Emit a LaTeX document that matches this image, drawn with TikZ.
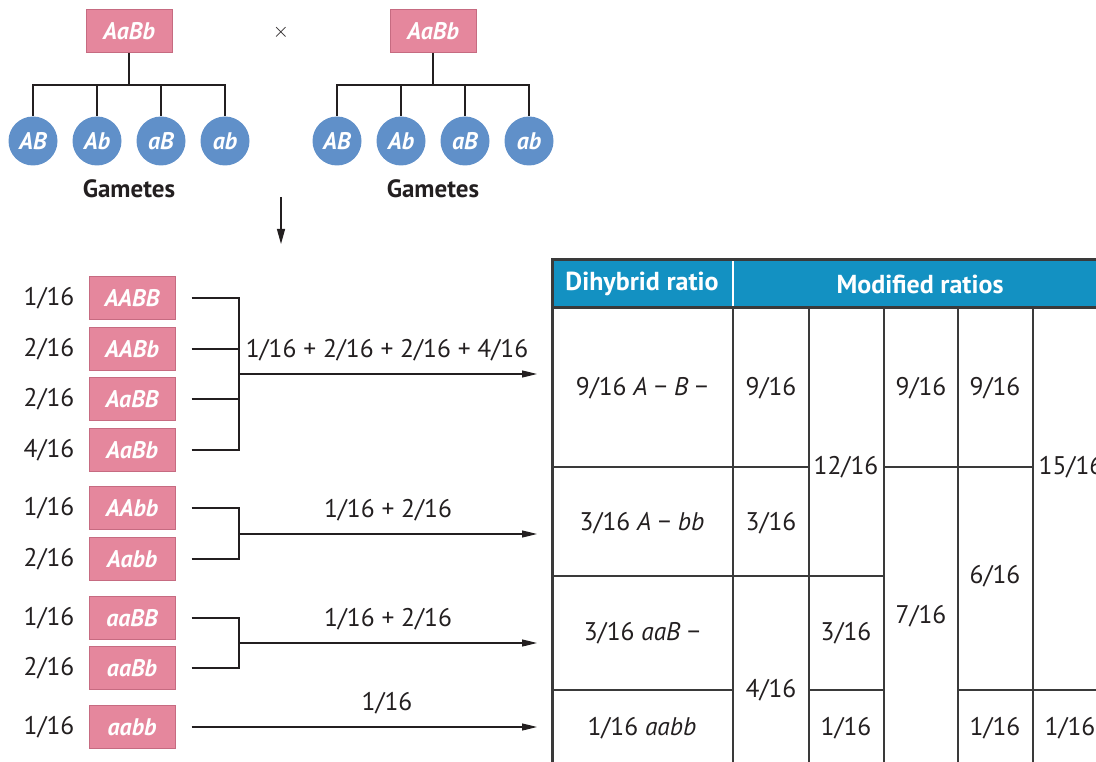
\documentclass[tikz,border=0pt]{standalone}
\usepackage{fontspec}
\setmainfont{PT Sans}
\usetikzlibrary{arrows.meta, positioning, calc}
\definecolor{cpink}{HTML}{E5879D}
\definecolor{cpinkline}{HTML}{C66B81}
\definecolor{cblue}{HTML}{6090C9}
\definecolor{chead}{HTML}{1391C2}
\definecolor{cink}{HTML}{231F20}
\definecolor{cgrid}{HTML}{3A3A3A}
\tikzset{
  every picture/.style={line width=1.2pt, color=cink},
  geno/.style={draw=cpinkline, fill=cpink, line width=1pt, minimum width=86pt, minimum height=43pt, inner sep=0pt, text=white, font=\fontsize{24}{28}\selectfont\bfseries\itshape},
  gamete/.style={circle, fill=cblue, minimum size=49pt, inner sep=0pt, text=white, font=\fontsize{24}{28}\selectfont\bfseries\itshape},
  frac/.style={font=\fontsize{25.5}{30}\selectfont, inner sep=0pt},
  gamlabel/.style={font=\fontsize{25}{30}\selectfont\bfseries, inner sep=0pt},
  head/.style={font=\fontsize{26}{30}\selectfont\bfseries, text=white, inner sep=0pt},
  link/.style={draw=cink, line width=1.2pt},
  arrow/.style={-{Triangle[length=15pt, width=7pt]}, draw=cink, line width=1.2pt},
  colline/.style={draw=cgrid, line width=2.4pt},
  rowline/.style={draw=cgrid, line width=1.3pt},
}

\begin{document}
\begin{tikzpicture}[x=1pt, y=-1pt]
  \clip (0,0) rectangle (1096,762);
  % parents and gametes
  \node[geno] (pl) at (129,31) {AaBb};
  \node[geno] (pr) at (433,31) {AaBb};
  \node[font=\fontsize{22}{26}\selectfont, inner sep=0pt] (cross) at (281,32) {$\times$};
  \coordinate (lbar) at (129,85);
  \coordinate (rbar) at (433,85);
  \node[gamete] (la) at (33,141) {AB};
  \node[gamete] (lb) at (97,141) {Ab};
  \node[gamete] (lc) at (161,141) {aB};
  \node[gamete] (ld) at (225,141) {ab};
  \node[gamete] (ra) at (337,141) {AB};
  \node[gamete] (rb) at (401,141) {Ab};
  \node[gamete] (rc) at (465,141) {aB};
  \node[gamete] (rd) at (529,141) {ab};
  \node[gamlabel] (lgam) at (129,189) {Gametes};
  \node[gamlabel] (rgam) at (433,189) {Gametes};
  \draw[link] (pl) -- (lbar);
  \draw[link] (lbar) -| (la);
  \draw[link] (lbar) -| (lb);
  \draw[link] (lbar) -| (lc);
  \draw[link] (lbar) -| (ld);
  \draw[link] (pr) -- (rbar);
  \draw[link] (rbar) -| (ra);
  \draw[link] (rbar) -| (rb);
  \draw[link] (rbar) -| (rc);
  \draw[link] (rbar) -| (rd);
  \coordinate (dtop) at (281,197);
  \coordinate (dbot) at (281,244);
  \draw[-{Triangle[length=15pt, width=8pt]}, line width=1.2pt] (dtop) -- (dbot);

  % F2 genotypes
  \node[geno] (g1) at (132,298) {AABB};
  \node[geno] (g2) at (132,349) {AABb};
  \node[geno] (g3) at (132,399) {AaBB};
  \node[geno] (g4) at (132,450) {AaBb};
  \node[geno] (g5) at (132,508) {AAbb};
  \node[geno] (g6) at (132,559) {Aabb};
  \node[geno] (g7) at (132,618) {aaBB};
  \node[geno] (g8) at (132,668) {aaBb};
  \node[geno] (g9) at (132,727) {aabb};
  \node[frac] (f1) at (49,298) {1/16};
  \node[frac] (f2) at (49,349) {2/16};
  \node[frac] (f3) at (49,399) {2/16};
  \node[frac] (f4) at (49,450) {4/16};
  \node[frac] (f5) at (49,508) {1/16};
  \node[frac] (f6) at (49,559) {2/16};
  \node[frac] (f7) at (49,618) {1/16};
  \node[frac] (f8) at (49,668) {2/16};
  \node[frac] (f9) at (49,727) {1/16};

  \coordinate (j1) at (239,374);
  \coordinate (j2) at (239,534);
  \coordinate (j3) at (239,643);
  \coordinate (e1) at (537,374);
  \coordinate (e2) at (537,534);
  \coordinate (e3) at (537,643);
  \coordinate (e4) at (537,727);
  \draw[link, shorten <=16pt] (g1.east) -| (j1);
  \draw[link, shorten <=16pt] (g2.east) -| (j1);
  \draw[link, shorten <=16pt] (g3.east) -| (j1);
  \draw[link, shorten <=16pt] (g4.east) -| (j1);
  \draw[link, shorten <=16pt] (g5.east) -| (j2);
  \draw[link, shorten <=16pt] (g6.east) -| (j2);
  \draw[link, shorten <=16pt] (g7.east) -| (j3);
  \draw[link, shorten <=16pt] (g8.east) -| (j3);
  \draw[arrow] (j1) -- (e1);
  \draw[arrow] (j2) -- (e2);
  \draw[arrow] (j3) -- (e3);
  \draw[arrow, shorten <=16pt] (g9.east) -- (e4);
  \node[frac] (s1) at (387,350) {1/16 + 2/16 + 2/16 + 4/16};
  \node[frac] (s2) at (388,510) {1/16 + 2/16};
  \node[frac] (s3) at (388,619) {1/16 + 2/16};
  \node[frac] (s4) at (387,703) {1/16};

  % ratio table
  \fill[chead] (552,260) rectangle (1110,308);
  \draw[white, line width=2pt] (733,260) -- (733,308);
  \draw[colline, line width=3pt] (552,260) -- (1110,260);
  \draw[colline, line width=3pt] (552,308) -- (1110,308);
  \draw[colline, line width=3pt] (552,258.5) -- (552,770);
  \draw[colline] (733,308) -- (733,770);
  \draw[colline] (809,308) -- (809,770);
  \draw[colline] (884,308) -- (884,770);
  \draw[colline] (958,308) -- (958,770);
  \draw[colline] (1033,308) -- (1033,770);
  \draw[rowline] (552,467) -- (809,467);
  \draw[rowline] (884,467) -- (1033,467);
  \draw[rowline] (552,576) -- (884,576);
  \draw[rowline] (552,690) -- (733,690);
  \draw[rowline] (809,690) -- (884,690);
  \draw[rowline] (958,690) -- (1110,690);
  \node[head] (hd) at (642,284) {Dihybrid ratio};
  \node[head] (hm) at (920,284) {Modified ratios};
  \node[frac] (d1) at (642,388) {9/16 \textit{A} − \textit{B} −};
  \node[frac] (d2) at (642,523) {3/16 \textit{A} − \textit{bb}};
  \node[frac] (d3) at (642,633) {3/16 \textit{aaB} −};
  \node[frac] (d4) at (642,728) {1/16 \textit{aabb}};
  \node[frac] (m1a) at (771,388) {9/16};
  \node[frac] (m1b) at (771,523) {3/16};
  \node[frac] (m1c) at (771,690) {4/16};
  \node[frac] (m2a) at (846,467) {12/16};
  \node[frac] (m2b) at (846,633) {3/16};
  \node[frac] (m2c) at (846,728) {1/16};
  \node[frac] (m3a) at (921,388) {9/16};
  \node[frac] (m3b) at (921,616) {7/16};
  \node[frac] (m4a) at (995,388) {9/16};
  \node[frac] (m4b) at (995,576) {6/16};
  \node[frac] (m4c) at (995,728) {1/16};
  \node[frac] (m5a) at (1071,467) {15/16};
  \node[frac] (m5b) at (1070,728) {1/16};
\end{tikzpicture}
\end{document}
